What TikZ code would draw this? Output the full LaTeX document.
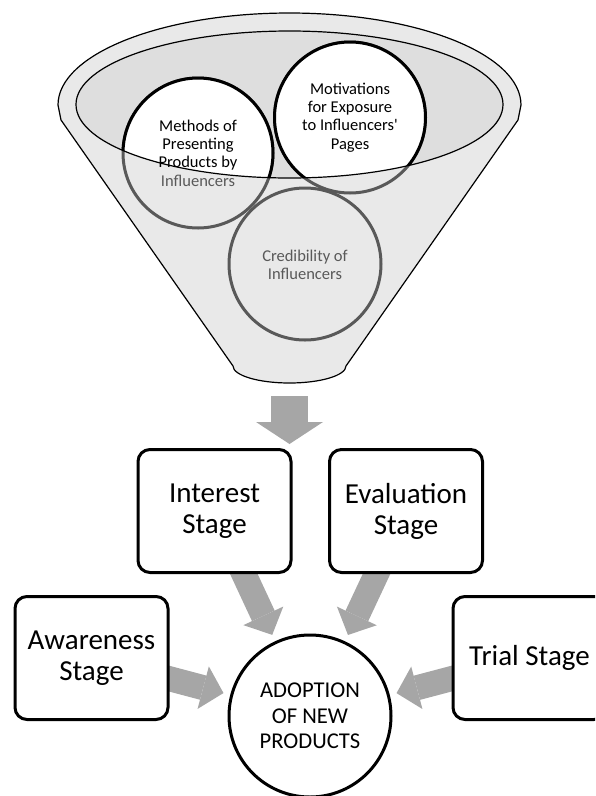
\documentclass[tikz,border=0pt]{standalone}
\usepackage{fontspec}
\setmainfont{Carlito}
\usetikzlibrary{arrows.meta,backgrounds}

\definecolor{funnelfill}{RGB}{233,233,233}
\definecolor{mouthfill}{RGB}{222,222,222}
\definecolor{ringgray}{RGB}{89,89,89}
\definecolor{arrowgray}{RGB}{166,166,166}

\tikzset{
	stagebox/.style={draw, line width=3pt, rounded corners=12pt, fill=white, minimum width=153pt, minimum height=123pt, inner sep=2pt, align=center, font=\fontsize{29}{31}\selectfont},
	goalcircle/.style={draw, circle, line width=3pt, fill=white, minimum size=162pt, inner sep=0pt, align=center, font=\fontsize{22.6}{25.5}\selectfont},
	ringtext/.style={align=center, font=\fontsize{16.5}{18.3}\selectfont},
	blockarrow/.style={draw=arrowgray, line width=25pt, -{Triangle[length=21pt,width=44pt,line width=0pt]}, shorten >=7pt},
	droparrow/.style={draw=arrowgray, line width=37pt, -{Triangle[length=22pt,width=67pt,line width=0pt]}}}
\tikzset{every picture/.style={line width=1.2pt}}

\begin{document}
\begin{tikzpicture}[x=1pt,y=1pt,yscale=-1]
	\useasboundingbox (0,0) rectangle (595,796);
	\clip (0,0) rectangle (595,796);

	%Shape: Funnel
	\filldraw [fill=funnelfill] (58,105) arc[start angle=180, end angle=360, x radius=231.5, y radius=92] -- (518,120) -- (346,366) arc[start angle=0, end angle=180, x radius=56.5, y radius=17] -- (61,120) -- cycle ;
	%Shape: Ellipse (mouth)
	\fill [mouthfill] (289.5,104.5) ellipse[x radius=213.5, y radius=73.5] ;

	%Shape: Circles, lower part
	\draw [ringgray, line width=3pt] (198,153) circle[radius=75] ;
	\draw [ringgray, line width=3pt] (350,117.5) circle[radius=75.5] ;
	\draw [ringgray, line width=3pt] (305,264) circle[radius=76] ;
	%Shape: Circles, part inside the mouth
	\begin{scope}
		\clip (289.5,104.5) ellipse[x radius=213.5, y radius=73.5] ;
		\filldraw [fill=white, line width=3pt] (198,153) circle[radius=75] ;
		\filldraw [fill=white, line width=3pt] (350,117.5) circle[radius=75.5] ;
	\end{scope}
	%Shape: Ellipse (mouth rim)
	\draw (289.5,104.5) ellipse[x radius=213.5, y radius=73.5] ;

	% Text Node
	\node [ringtext] (methods) at (198,153) {Methods of\\Presenting\\Products by\\\textcolor{ringgray}{Influencers}};
	% Text Node
	\node [ringtext] (motivations) at (350,117.5) {Motivations\\for Exposure\\to Influencers\textquotesingle\\Pages};
	% Text Node
	\node [ringtext, text=ringgray] (credibility) at (305,265) {Credibility of\\Influencers};

	%Straight Lines (out of the funnel)
	\coordinate (funnelneck) at (289.5,396);
	\coordinate (droptip) at (289.5,444);
	\draw [droparrow] (funnelneck) -- (droptip) ;

	% Stage Nodes
	\node [stagebox] (interest) at (214.5,511) {Interest\\Stage};
	\node [stagebox] (evaluation) at (406,511) {Evaluation\\Stage};
	\node [stagebox] (awareness) at (91.5,658) {Awareness\\Stage};
	\node [stagebox] (trial) at (529.5,658) {Trial Stage};
	% Goal Node
	\node [goalcircle] (adoption) at (310,716) {ADOPTION\\OF NEW\\PRODUCTS};

	%Straight Lines (stages to adoption)
	\begin{scope}[on background layer]
		\draw [blockarrow] (interest.center) -- (adoption) ;
		\draw [blockarrow] (evaluation.center) -- (adoption) ;
		\draw [blockarrow] (awareness.center) -- (adoption) ;
		\draw [blockarrow] (trial.center) -- (adoption) ;
	\end{scope}

\end{tikzpicture}
\end{document}
